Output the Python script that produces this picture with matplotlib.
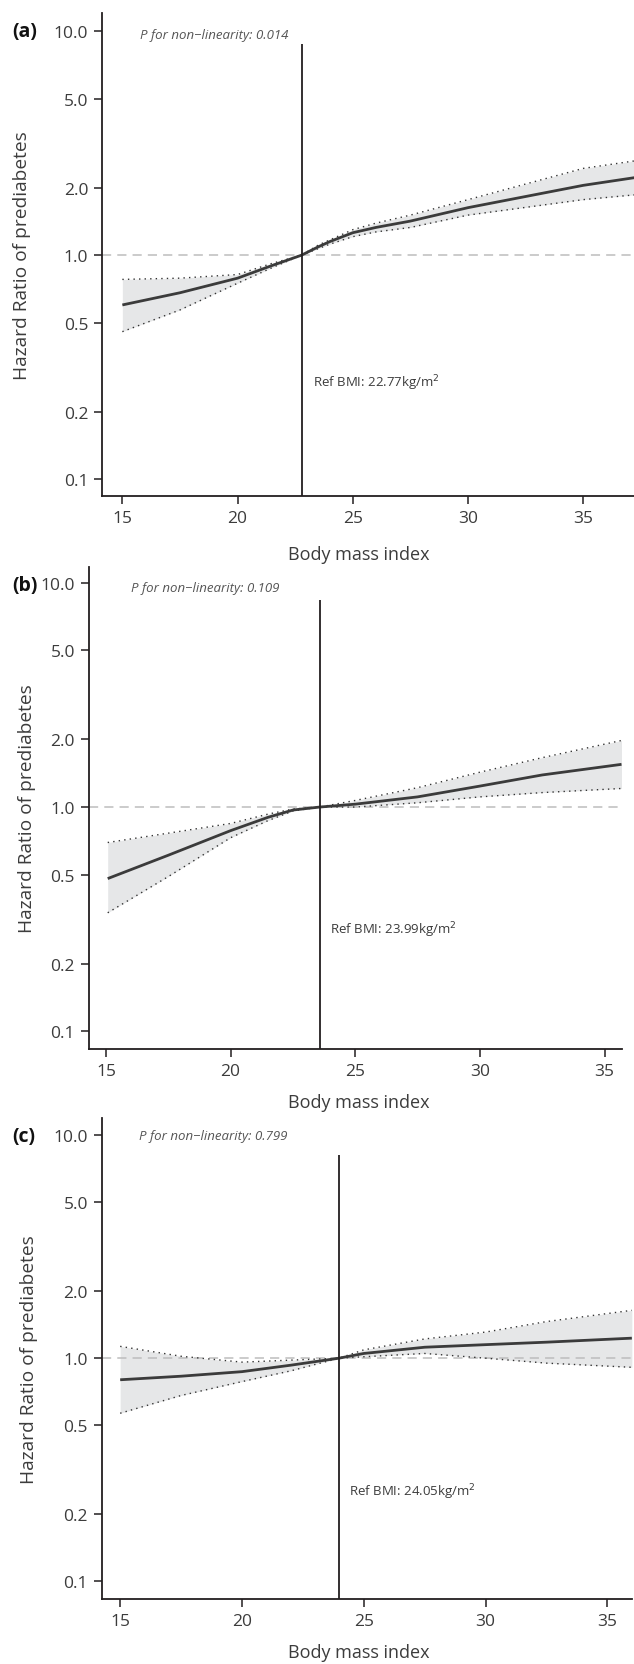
import numpy as np
import matplotlib.pyplot as plt
from matplotlib.ticker import FixedLocator, NullLocator

plt.rcParams['font.family'] = ['Open Sans', 'DejaVu Sans']

# panel (a)
bmi_a = [15, 17.5, 20, 21.5, 22.77, 23.5, 24, 25, 26, 27.5, 30, 35, 37.5]
hr_a = [0.60, 0.68, 0.79, 0.90, 1.0, 1.09, 1.15, 1.26, 1.33, 1.42, 1.63, 2.05, 2.24]
up_a = [0.78, 0.79, 0.82, 0.92, 1.0, 1.11, 1.17, 1.30, 1.39, 1.51, 1.77, 2.44, 2.66]
lo_a = [0.456, 0.57, 0.75, 0.88, 1.0, 1.07, 1.12, 1.21, 1.27, 1.33, 1.51, 1.77, 1.87]

# panel (b)
bmi_b = [15.07, 17.5, 20, 21.5, 22.5, 23.57, 25, 27.5, 30, 32.5, 35.68]
hr_b = [0.48, 0.61, 0.785, 0.90, 0.97, 1.0, 1.03, 1.11, 1.24, 1.39, 1.55]
up_b = [0.695, 0.765, 0.845, 0.93, 0.98, 1.0, 1.07, 1.22, 1.43, 1.66, 1.98]
lo_b = [0.338, 0.49, 0.73, 0.87, 0.96, 1.0, 1.0, 1.045, 1.11, 1.16, 1.21]

# panel (c)
bmi_c = [15, 17.5, 20, 22, 23.98, 25, 27.5, 30, 32.5, 36]
hr_c = [0.80, 0.83, 0.87, 0.93, 1.0, 1.05, 1.12, 1.15, 1.18, 1.23]
up_c = [1.13, 1.02, 0.96, 0.98, 1.0, 1.09, 1.22, 1.31, 1.46, 1.64]
lo_c = [0.566, 0.68, 0.785, 0.877, 1.0, 1.015, 1.05, 1.0, 0.95, 0.91]

labels = ['(a)', '(b)', '(c)']
p_text = ['P for non\u2212linearity: 0.014', 'P for non\u2212linearity: 0.109',
          'P for non\u2212linearity: 0.799']
ref_text = ['22.77', '23.99', '24.05']
ref_x = [22.78, 23.57, 23.98]
ref_top = [8.77, 8.4, 8.17]
ref_lbl_pos = [(23.29, 0.271), (23.97, 0.285), (24.38, 0.253)]
p_pos = [(15.76, 9.7), (16.0, 9.56), (15.79, 10.0)]

yticks = [0.1, 0.2, 0.5, 1.0, 2.0, 5.0, 10.0]
ytick_labels = ['0.1', '0.2', '0.5', '1.0', '2.0', '5.0', '10.0']
xticks = [15, 20, 25, 30, 35]

W, H = 634, 1665
fig = plt.figure(figsize=(W / 100, H / 100), dpi=100)

# axes boxes in pixels: left, right, top, bottom
boxes = [(102.3, 634, 13.5, 497), (89, 621.5, 567.5, 1050.4), (101.9, 631.6, 1118.8, 1600.3)]
xlims = [(14.13, 37.2), (14.32, 35.68), (14.25, 35.99)]
ylims = [(0.0843, 12.1), (0.0832, 11.8), (0.0827, 12.0)]
ylab_x = [22, 27.5, 29]
xlab_y = [555, 1103, 1653]

data = [(bmi_a, hr_a, up_a, lo_a), (bmi_b, hr_b, up_b, lo_b), (bmi_c, hr_c, up_c, lo_c)]
dark = '#3b3b3b'
axc = '#231f20'
txt = '#3c3c3c'

for i in range(3):
    l, r, t, b = boxes[i]
    ax = fig.add_axes([l / W, 1 - b / H, (r - l) / W, (b - t) / H])
    x, y, up, lo = data[i]
    ax.set_yscale('log')
    ax.fill_between(x, lo, up, color='#e6e7e8', lw=0, zorder=1)
    ax.plot(x, up, ls=(0, (1, 3)), color='#333333', lw=1.0, zorder=2)
    ax.plot(x, lo, ls=(0, (1, 3)), color='#333333', lw=1.0, zorder=2)
    ax.axhline(1.0, color='#bdbdbd', ls=(0, (6, 4)), lw=1.1, zorder=1.5)
    ax.plot(x, y, color=dark, lw=2.0, zorder=3, solid_capstyle='butt')
    ax.vlines(ref_x[i], ylims[i][0], ref_top[i], color=axc, lw=1.3, zorder=4)

    ax.set_xlim(*xlims[i])
    ax.set_ylim(*ylims[i])
    ax.yaxis.set_major_locator(FixedLocator(yticks))
    ax.yaxis.set_minor_locator(NullLocator())
    ax.set_yticklabels(ytick_labels)
    ax.set_xticks(xticks)
    for s in ['top', 'right']:
        ax.spines[s].set_visible(False)
    for s in ['left', 'bottom']:
        ax.spines[s].set_color(axc)
        ax.spines[s].set_linewidth(1.3)
    ax.tick_params(axis='both', length=6, width=1.1, color=axc, labelsize=12.5,
                   labelcolor=txt, pad=4)

    ax.text(p_pos[i][0], p_pos[i][1], p_text[i], style='italic', fontsize=9.5,
            color='#555555', va='center', ha='left')
    ax.text(ref_lbl_pos[i][0], ref_lbl_pos[i][1], 'Ref BMI: ' + ref_text[i] + 'kg/m$^{2}$',
            fontsize=9.5, color=txt, va='center', ha='left')

    fig.text(12 / W, 1 - boxes[i][2] / H - 18.5 / H, labels[i], fontsize=14,
             fontweight='bold', color='#111111', va='center', ha='left')
    fig.text(ylab_x[i] / W, 1 - (t + b) / 2 / H, 'Hazard Ratio of prediabetes',
             rotation=90, fontsize=13.8, color=txt, va='center', ha='center')
    fig.text(359 / W, 1 - xlab_y[i] / H, 'Body mass index', fontsize=13,
             color=txt, va='center', ha='center')

fig.savefig('out.png', dpi=100)
